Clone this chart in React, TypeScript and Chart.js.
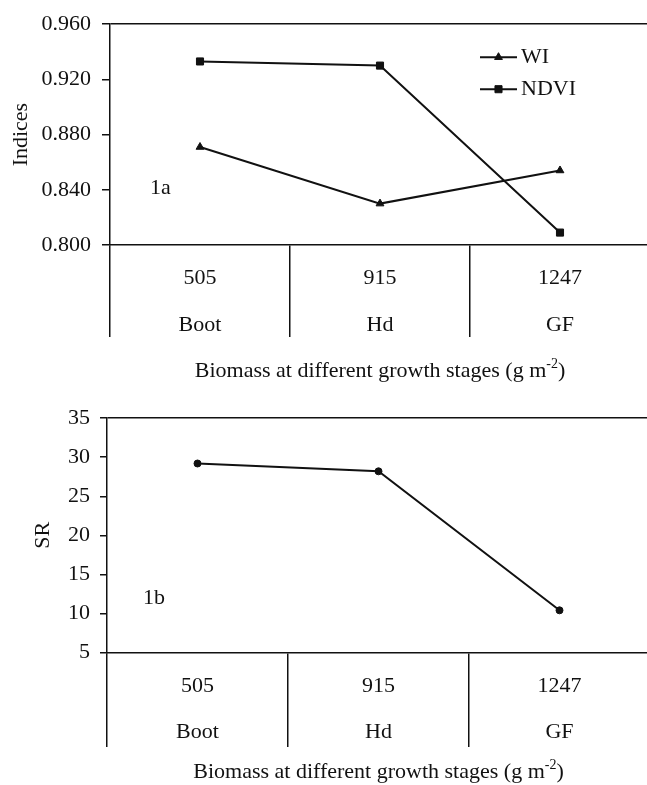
import React, { useEffect, useRef } from "react";
import { Chart, registerables } from "chart.js";
import { drawPoint } from "chart.js/helpers";

Chart.register(...registerables);

// ---- data ----
const biomass = ["505", "915", "1247"];
const stages = ["Boot", "Hd", "GF"];
const wiValues = [0.871, 0.83, 0.854];
const ndviValues = [0.933, 0.93, 0.809];
const srValues = [29.2, 28.2, 10.4];
const indicesTicks = [0.8, 0.84, 0.88, 0.92, 0.96];
const srTicks = [5, 10, 15, 20, 25, 30, 35];

const INK = "#111";
const FAMILY = "'Liberation Serif', 'Times New Roman', serif";
const FONT_SIZE = 22;

const catLabels = biomass.map((b, i) => [b, stages[i]]);

const insideLegend = {
  id: "insideLegend",
  afterDatasetsDraw(chart: any, _args: any, opts: any) {
    if (!opts || !opts.show) return;
    const { ctx, chartArea } = chart;
    ctx.save();
    chart.data.datasets.forEach((ds: any, i: number) => {
      const y = chartArea.top + opts.top + i * opts.spacing;
      const x0 = chartArea.left + opts.left;
      const x1 = x0 + opts.lineLength;
      ctx.strokeStyle = ds.borderColor;
      ctx.lineWidth = ds.borderWidth;
      ctx.beginPath();
      ctx.moveTo(x0, y);
      ctx.lineTo(x1, y);
      ctx.stroke();
      ctx.fillStyle = ds.pointBackgroundColor;
      ctx.strokeStyle = ds.pointBorderColor;
      ctx.lineWidth = 1;
      drawPoint(
        ctx,
        { pointStyle: ds.pointStyle, radius: ds.pointRadius, rotation: 0, borderWidth: 1 } as any,
        (x0 + x1) / 2,
        y
      );
      ctx.fillStyle = INK;
      ctx.font = `${FONT_SIZE}px ${FAMILY}`;
      ctx.textBaseline = "middle";
      ctx.textAlign = "left";
      ctx.fillText(ds.label, x1 + opts.gap, y);
    });
    ctx.restore();
  },
};

function makeOptions(cfg: {
  min: number;
  max: number;
  tickValues: number[];
  fmt: (v: number) => string;
  yTitle: string;
  yTitlePad: number;
  yTickLen: number;
  yTickPad: number;
  yWidth: number;
  padTop: number;
  xHeight: number;
  xTickLen: number;
  xLabelPad: number;
  xLineHeight: number;
  legend: boolean;
}) {
  return {
    responsive: false,
    animation: false as const,
    layout: { padding: { top: cfg.padTop, right: 10, bottom: 0, left: 0 } },
    plugins: {
      legend: { display: false },
      tooltip: { enabled: false },
      insideLegend: { show: cfg.legend, left: 370, top: 33, spacing: 32, lineLength: 37, gap: 4 },
    },
    elements: { line: { tension: 0 } },
    scales: {
      x: {
        type: "category" as const,
        offset: true,
        grid: {
          offset: true,
          drawOnChartArea: false,
          drawTicks: true,
          tickLength: cfg.xTickLen,
          color: INK,
          lineWidth: 1.5,
        },
        border: { color: INK, width: 1.5 },
        ticks: {
          color: INK,
          font: { family: FAMILY, size: FONT_SIZE, lineHeight: cfg.xLineHeight },
          padding: cfg.xLabelPad,
          maxRotation: 0,
          minRotation: 0,
          autoSkip: false,
        },
        afterFit: (s: any) => {
          s.height = cfg.xHeight;
        },
      },
      y: {
        min: cfg.min,
        max: cfg.max,
        afterBuildTicks: (s: any) => {
          s.ticks = cfg.tickValues.map((v) => ({ value: v }));
        },
        grid: {
          drawOnChartArea: true,
          drawTicks: true,
          tickLength: cfg.yTickLen,
          lineWidth: 1.5,
          tickColor: INK,
          color: (c: any) =>
            c.tick && Math.abs(c.tick.value - cfg.max) < 1e-9 ? INK : "rgba(0,0,0,0)",
        },
        border: { color: INK, width: 1.5 },
        ticks: {
          color: INK,
          font: { family: FAMILY, size: FONT_SIZE },
          padding: cfg.yTickPad,
          callback: (v: any) => cfg.fmt(Number(v)),
        },
        title: {
          display: true,
          text: cfg.yTitle,
          color: INK,
          font: { family: FAMILY, size: FONT_SIZE },
          padding: cfg.yTitlePad,
        },
        afterFit: (s: any) => {
          s.width = cfg.yWidth;
        },
      },
    },
  };
}

function lineDs(label: string, data: number[], pointStyle: string, radius: number) {
  return {
    label,
    data,
    borderColor: INK,
    borderWidth: 2,
    pointStyle,
    pointRadius: radius,
    pointBackgroundColor: INK,
    pointBorderColor: INK,
    pointBorderWidth: 1,
    fill: false,
    clip: false as const,
  };
}

export default function App() {
  const topRef = useRef<HTMLCanvasElement | null>(null);
  const botRef = useRef<HTMLCanvasElement | null>(null);

  useEffect(() => {
    const top = new Chart(topRef.current as HTMLCanvasElement, {
      type: "line",
      data: {
        labels: catLabels,
        datasets: [
          lineDs("WI", wiValues, "triangle", 4.5),
          lineDs("NDVI", ndviValues, "rect", 5),
        ],
      },
      options: makeOptions({
        min: 0.8,
        max: 0.96,
        tickValues: indicesTicks,
        fmt: (v) => v.toFixed(3),
        yTitle: "Indices",
        yTitlePad: 8,
        yTickLen: 8,
        yTickPad: 11,
        yWidth: 110,
        padTop: 23,
        xHeight: 150,
        xTickLen: 92,
        xLabelPad: -82.5,
        xLineHeight: 47 / 22,
        legend: true,
      }) as any,
      plugins: [insideLegend],
    });
    const bot = new Chart(botRef.current as HTMLCanvasElement, {
      type: "line",
      data: {
        labels: catLabels,
        datasets: [lineDs("SR", srValues, "circle", 3.5)],
      },
      options: makeOptions({
        min: 5,
        max: 35,
        tickValues: srTicks,
        fmt: (v) => String(v),
        yTitle: "SR",
        yTitlePad: 30,
        yTickLen: 7,
        yTickPad: 10,
        yWidth: 107,
        padTop: 21,
        xHeight: 132.5,
        xTickLen: 94.5,
        xLabelPad: -84,
        xLineHeight: 46 / 22,
        legend: false,
      }) as any,
      plugins: [insideLegend],
    });
    return () => {
      top.destroy();
      bot.destroy();
    };
  }, []);

  const textStyle: React.CSSProperties = {
    position: "absolute",
    fontFamily: FAMILY,
    fontSize: FONT_SIZE,
    lineHeight: "22px",
    color: INK,
    whiteSpace: "nowrap",
  };
  const supStyle: React.CSSProperties = {
    fontSize: 14,
    position: "relative",
    top: -9,
  };
  const xTitle = (
    <>
      Biomass at different growth stages (g m<span style={supStyle}>-2</span>)
    </>
  );

  return (
    <div
      style={{
        position: "fixed",
        left: 0,
        top: 0,
        width: 647,
        height: 785,
        overflow: "hidden",
        background: "#fff",
      }}
    >
      <canvas
        ref={topRef}
        width={660}
        height={395}
        style={{ position: "absolute", left: 0, top: 0, width: 660, height: 395 }}
      />
      <canvas
        ref={botRef}
        width={660}
        height={390}
        style={{ position: "absolute", left: 0, top: 395, width: 660, height: 390 }}
      />
      <div style={{ ...textStyle, left: 150, top: 176 }}>1a</div>
      <div style={{ ...textStyle, left: 143, top: 586 }}>1b</div>
      <div style={{ ...textStyle, left: 110, width: 540, top: 359, textAlign: "center" }}>{xTitle}</div>
      <div style={{ ...textStyle, left: 107, width: 543, top: 760, textAlign: "center" }}>{xTitle}</div>
    </div>
  );
}
